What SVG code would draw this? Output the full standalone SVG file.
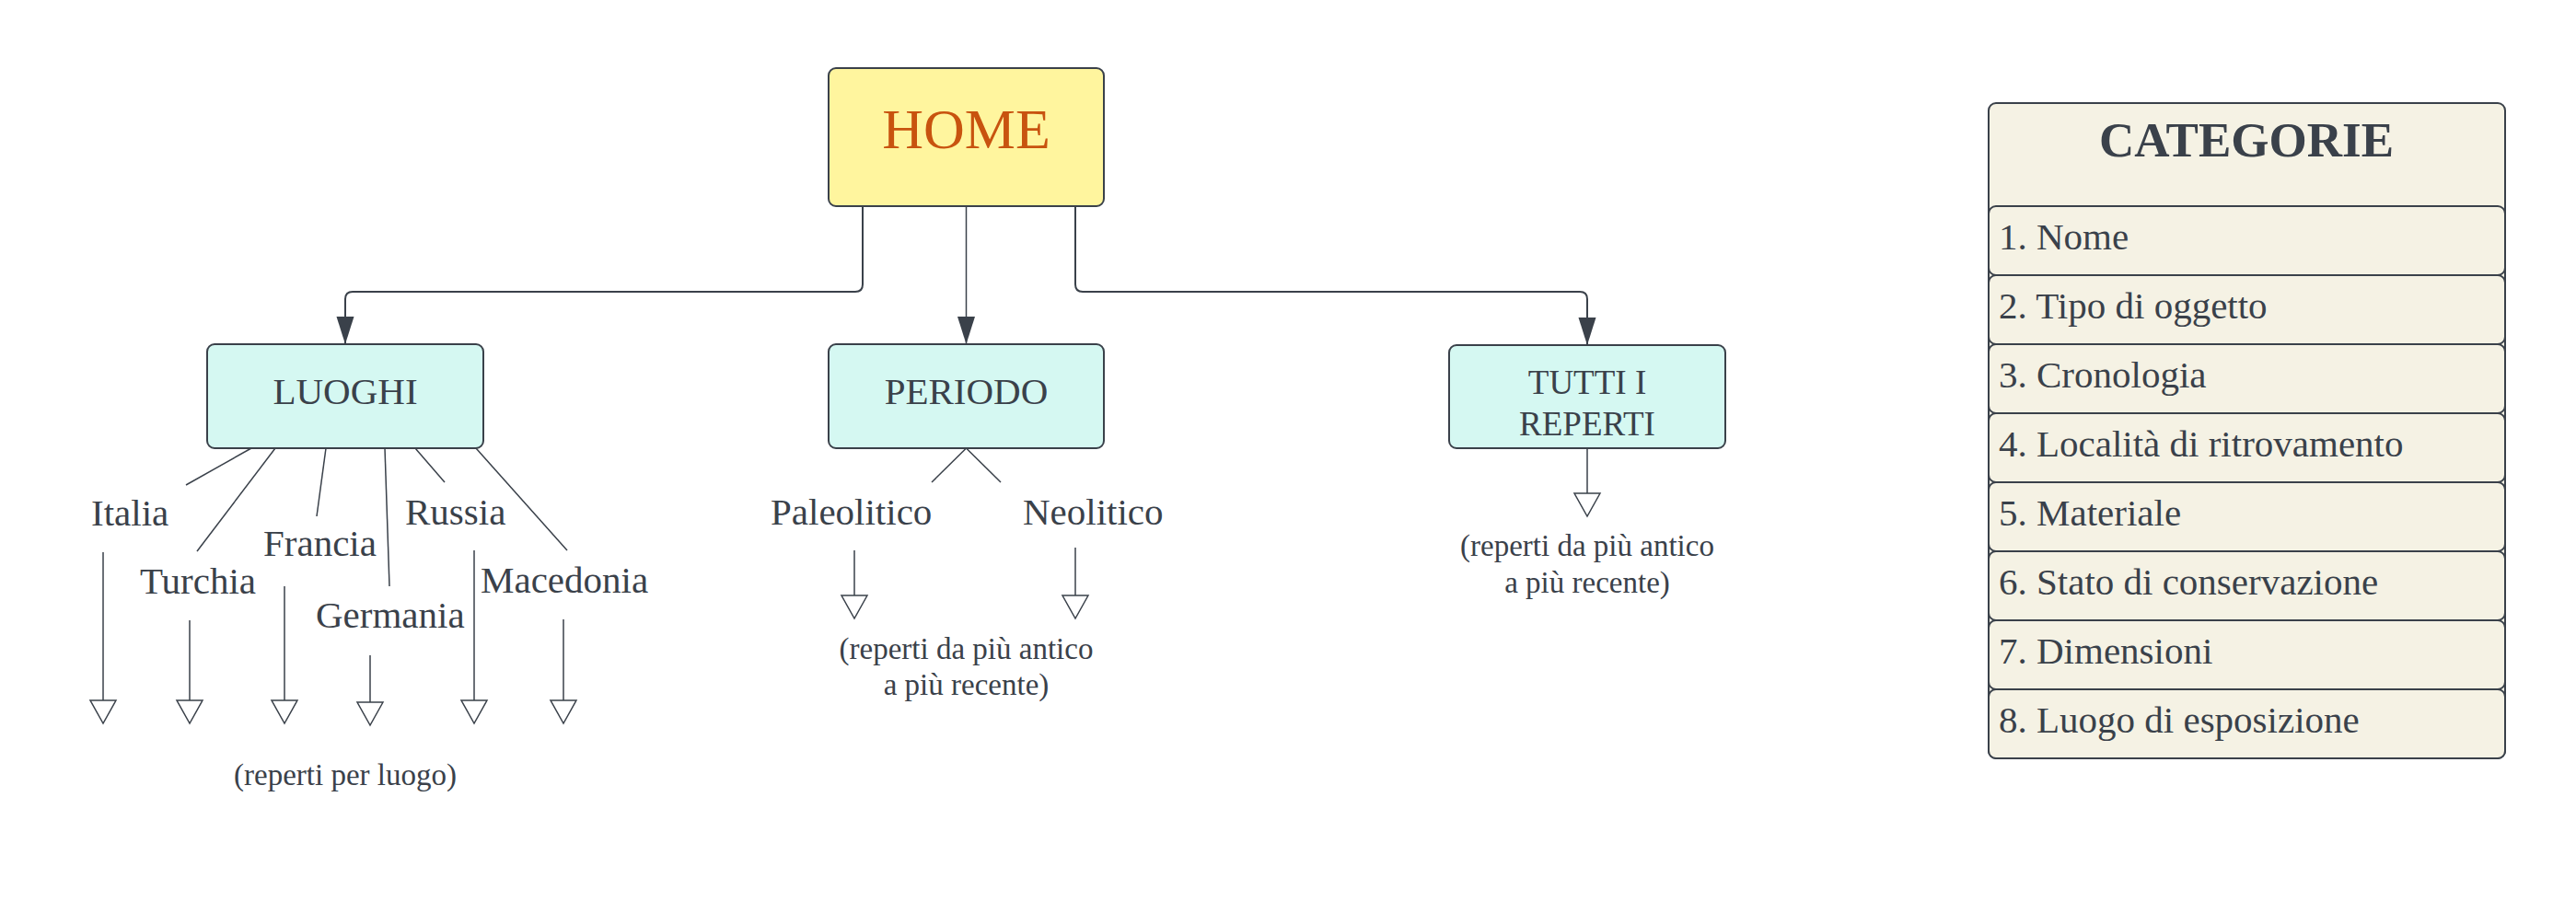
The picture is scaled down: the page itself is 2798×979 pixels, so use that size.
<svg xmlns="http://www.w3.org/2000/svg" width="2798" height="979" viewBox="0 0 2798 979">
<style>
.t{font-family:"Liberation Serif","Times New Roman",serif;fill:#3a414a}
.box{stroke:#3a414a;stroke-width:2}
.c{fill:none;stroke:#3a414a;stroke-width:2}
.thin{fill:none;stroke:#3a414a;stroke-width:1.5}
</style>
<defs>
<marker id="fa" markerUnits="userSpaceOnUse" viewBox="-31 -11 32 22" refX="0" refY="0" markerWidth="32" markerHeight="22" orient="auto" overflow="visible">
<path d="M-30,-9.5 L0,0 L-30,9.5 Z" fill="#3a414a"/>
</marker>
<marker id="ht" markerUnits="userSpaceOnUse" viewBox="-2 -16 30 32" refX="0" refY="0" markerWidth="30" markerHeight="32" orient="auto" overflow="visible">
<path d="M0,-14 L25,0 L0,14 Z" fill="#ffffff" stroke="#3a414a" stroke-width="1.5" stroke-linejoin="miter"/>
</marker>
</defs>
<rect width="2798" height="979" fill="#ffffff"/>

<g id="connectors">
<path class="c" d="M937,224 V309 Q937,317 929,317 H383 Q375,317 375,325 V374" marker-end="url(#fa)"/>
<path class="thin" d="M1049.5,224 V374" marker-end="url(#fa)"/>
<path class="c" d="M1168,224 V309 Q1168,317 1176,317 H1716 Q1724,317 1724,325 V375" marker-end="url(#fa)"/>
<path class="thin" d="M273,487 L202,527"/>
<path class="thin" d="M299,487 L214,599"/>
<path class="thin" d="M354,487 L344,561"/>
<path class="thin" d="M418,487 L423,637"/>
<path class="thin" d="M451,487 L483,524"/>
<path class="thin" d="M517,487 L616,598"/>
<path class="thin" d="M1049.5,487 L1012,524"/>
<path class="thin" d="M1049.5,487 L1087,524"/>
<path class="thin" d="M112,600 V761" marker-end="url(#ht)"/>
<path class="thin" d="M206,674 V761" marker-end="url(#ht)"/>
<path class="thin" d="M309,637 V761" marker-end="url(#ht)"/>
<path class="thin" d="M402,712 V763" marker-end="url(#ht)"/>
<path class="thin" d="M515,598 V761" marker-end="url(#ht)"/>
<path class="thin" d="M612,673 V761" marker-end="url(#ht)"/>
<path class="thin" d="M928,598 V647" marker-end="url(#ht)"/>
<path class="thin" d="M1168,595 V647" marker-end="url(#ht)"/>
<path class="thin" d="M1724,488 V536" marker-end="url(#ht)"/>
</g>

<g id="home">
<rect class="box" x="900" y="74" width="299" height="150" rx="8" fill="#fff59e"/>
<text class="t" x="1049.5" y="161" font-size="62" text-anchor="middle" style="fill:#c8530f">HOME</text>
</g>
<g id="luoghi">
<rect class="box" x="225" y="374" width="300" height="113" rx="8" fill="#d5f8f2"/>
<text class="t" x="375" y="439" font-size="41" text-anchor="middle">LUOGHI</text>
</g>
<g id="periodo">
<rect class="box" x="900" y="374" width="299" height="113" rx="8" fill="#d5f8f2"/>
<text class="t" x="1049.5" y="439" font-size="41" text-anchor="middle">PERIODO</text>
</g>
<g id="tutti">
<rect class="box" x="1574" y="375" width="300" height="112" rx="8" fill="#d5f8f2"/>
<text class="t" x="1724" y="428" font-size="37" text-anchor="middle">TUTTI I</text>
<text class="t" x="1724" y="473" font-size="37" text-anchor="middle">REPERTI</text>
</g>

<g id="luoghi-labels">
<text class="t" x="99" y="571" font-size="41">Italia</text>
<text class="t" x="152" y="645" font-size="41">Turchia</text>
<text class="t" x="286" y="604" font-size="41">Francia</text>
<text class="t" x="343" y="682" font-size="41">Germania</text>
<text class="t" x="440" y="570" font-size="41">Russia</text>
<text class="t" x="522" y="644" font-size="41">Macedonia</text>
<text class="t" x="375" y="853" font-size="33" text-anchor="middle">(reperti per luogo)</text>
</g>
<g id="periodo-labels">
<text class="t" x="837" y="570" font-size="41">Paleolitico</text>
<text class="t" x="1111" y="570" font-size="41">Neolitico</text>
<text class="t" x="1049.5" y="716" font-size="33" text-anchor="middle">(reperti da più antico</text>
<text class="t" x="1049.5" y="755" font-size="33" text-anchor="middle">a più recente)</text>
</g>
<g id="tutti-labels">
<text class="t" x="1724" y="604" font-size="33" text-anchor="middle">(reperti da più antico</text>
<text class="t" x="1724" y="644" font-size="33" text-anchor="middle">a più recente)</text>
</g>

<g id="categorie">
<rect class="box" x="2160" y="112" width="561" height="712" rx="8" fill="#f5f2e4"/>
<text class="t" x="2440" y="170" font-size="53" font-weight="bold" text-anchor="middle">CATEGORIE</text>
<rect class="box" x="2160" y="224" width="561" height="75" rx="8" fill="#f5f2e4"/>
<rect class="box" x="2160" y="299" width="561" height="75" rx="8" fill="#f5f2e4"/>
<rect class="box" x="2160" y="374" width="561" height="75" rx="8" fill="#f5f2e4"/>
<rect class="box" x="2160" y="449" width="561" height="75" rx="8" fill="#f5f2e4"/>
<rect class="box" x="2160" y="524" width="561" height="75" rx="8" fill="#f5f2e4"/>
<rect class="box" x="2160" y="599" width="561" height="75" rx="8" fill="#f5f2e4"/>
<rect class="box" x="2160" y="674" width="561" height="75" rx="8" fill="#f5f2e4"/>
<rect class="box" x="2160" y="749" width="561" height="75" rx="8" fill="#f5f2e4"/>
<text class="t" x="2171" y="271" font-size="41">1. Nome</text>
<text class="t" x="2171" y="346" font-size="41">2. Tipo di oggetto</text>
<text class="t" x="2171" y="421" font-size="41">3. Cronologia</text>
<text class="t" x="2171" y="496" font-size="41">4. Località di ritrovamento</text>
<text class="t" x="2171" y="571" font-size="41">5. Materiale</text>
<text class="t" x="2171" y="646" font-size="41">6. Stato di conservazione</text>
<text class="t" x="2171" y="721" font-size="41">7. Dimensioni</text>
<text class="t" x="2171" y="796" font-size="41">8. Luogo di esposizione</text>
</g>
</svg>
